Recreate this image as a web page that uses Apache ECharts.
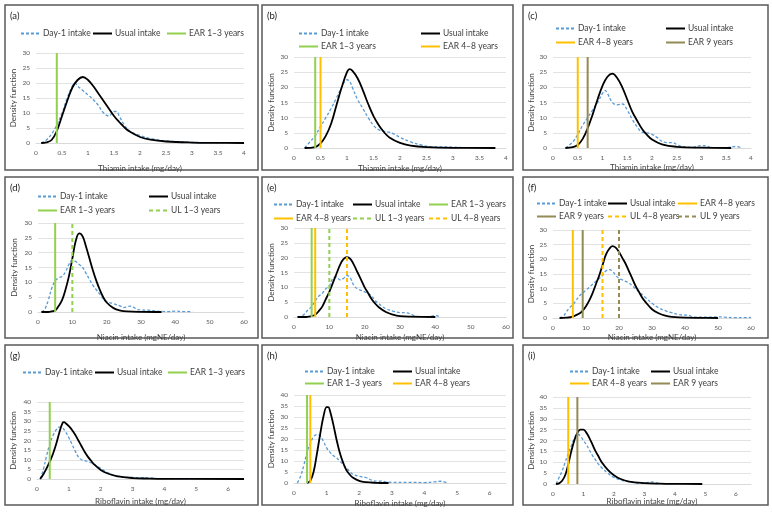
<!DOCTYPE html>
<html>
<head>
<meta charset="utf-8">
<script src="https://cdn.jsdelivr.net/npm/echarts@6/dist/echarts.min.js"></script>
<style>html,body{margin:0;background:#fff}#main{width:772px;height:513px}</style>
</head>
<body>
<div id="main"></div>
<script>
// (a)-(c) thiamin, (d)-(f) niacin, (g)-(i) riboflavin; [intake, density]
var aDay1 = [[0.1,0],[0.2,1],[0.3,3],[0.4,6],[0.5,10],[0.6,15],[0.7,19],[0.75,20],[0.8,19],[0.9,17.5],[1.0,16],[1.1,14.5],[1.2,12.5],[1.3,10],[1.4,9],[1.5,10.5],[1.55,10.5],[1.6,9],[1.7,6],[1.8,4],[2.0,2.5],[2.2,1.5],[2.5,0.7],[3,0.2],[3.5,0.1],[4,0.05]];
var aUsual = [[0.1,0],[0.2,0.2],[0.3,1],[0.4,4],[0.5,9],[0.6,14],[0.7,18.5],[0.8,21],[0.9,22],[1.0,21],[1.1,19],[1.2,16.5],[1.3,14],[1.4,11.5],[1.5,9],[1.6,7],[1.7,5.2],[1.8,3.8],[2.0,2],[2.2,1.1],[2.5,0.5],[3,0.15],[3.5,0.05],[4,0]];
var aRefs = [['EAR 1–3 years',0.4]];

var bDay1 = [[0.2,0],[0.3,2],[0.4,4],[0.5,7],[0.6,10],[0.7,13],[0.8,16.5],[0.9,20],[1.0,22.5],[1.05,22],[1.1,20],[1.2,16],[1.3,13],[1.4,10],[1.5,7.5],[1.6,6],[1.7,5.5],[1.8,5.2],[1.9,4.5],[2.0,3.5],[2.2,2],[2.4,1],[2.6,0.4],[3,0.3],[3.2,0.1],[3.5,0.05]];
var bUsual = [[0.2,0],[0.4,0.3],[0.5,1.5],[0.6,4],[0.7,8],[0.8,14],[0.9,20],[1.0,25],[1.05,26],[1.1,25.5],[1.2,23],[1.3,19],[1.4,14.5],[1.5,10.5],[1.6,7.5],[1.7,5.2],[1.8,3.5],[2.0,1.7],[2.2,0.8],[2.5,0.3],[3,0.05],[3.8,0]];
var bRefs = [['EAR 1–3 years',0.4],['EAR 4–8 years',0.5]];

var cDay1 = [[0.25,0],[0.4,2],[0.5,4.5],[0.6,7.5],[0.7,10],[0.8,12.5],[0.9,15],[1.0,18],[1.05,19],[1.1,18],[1.2,15],[1.3,14.2],[1.4,14.5],[1.5,12.5],[1.6,9.5],[1.7,7],[1.8,5.2],[1.9,5],[2.0,4.5],[2.1,3.5],[2.2,2.2],[2.3,1.8],[2.4,1.8],[2.5,1.2],[2.6,0.5],[2.8,0.2],[3.0,0.8],[3.1,0.7],[3.2,0.1],[3.5,0.1],[3.7,0.5],[3.8,0.1]];
var cUsual = [[0.25,0],[0.4,0.3],[0.5,1],[0.6,3],[0.7,6.5],[0.8,11],[0.9,16],[1.0,20.5],[1.1,23.5],[1.2,24.5],[1.3,23],[1.4,20],[1.5,16],[1.6,12],[1.7,9],[1.8,6.3],[1.9,4.3],[2.0,2.8],[2.2,1.2],[2.5,0.4],[3,0.1],[3.6,0]];
var cRefs = [['EAR 4–8 years',0.5],['EAR 9 years',0.7]];

var dDay1 = [[1,0],[2,1],[3,4],[4,8],[5,10.5],[6,11.5],[7,12],[8,13.5],[9,16],[10,17.5],[11,17],[12,16],[13,15],[14,13],[15,11],[16,9],[17,7.5],[18,6],[19,4.5],[20,3.5],[22,2.8],[24,2],[25,1.5],[26,1.8],[27,2],[28,1.5],[29,0.8],[30,0.7],[32,0.6],[34,0.4],[36,0.2],[38,0.1],[40,0.3],[42,0.1],[45,0.1]];
var dUsual = [[1,0],[3,0],[4,0.2],[5,0.5],[6,2],[7,4],[8,7.5],[9,12],[10,18],[11,24],[12,26.5],[13,25.5],[14,22],[15,18],[16,14],[17,10.5],[18,7.5],[19,5],[20,3.2],[22,1.3],[24,0.5],[26,0.2],[30,0.05],[36,0]];
var dRefs = [['EAR 1–3 years',5],['UL 1–3 years',10]];

var eDay1 = [[1,0],[2,0.3],[3,1],[4,2.5],[5,3.5],[6,5.5],[7,7],[8,8],[9,9.5],[10,10.5],[11,13],[12,13.5],[13,12.5],[14,13],[15,14],[16,13],[17,10.5],[18,9.5],[19,9],[20,8.5],[21,8],[22,7],[23,5.5],[24,4.5],[25,3.5],[26,2.8],[28,2],[30,1.5],[32,1.4],[33,1],[34,0.5],[35,0.1],[38,0.1],[40,0.5],[41,0.2]];
var eUsual = [[1,0],[3,0],[4,0.1],[5,0.3],[6,0.8],[7,2],[8,3.5],[9,6],[10,8.5],[11,11.5],[12,14.5],[13,17.5],[14,19.5],[15,20.2],[16,19.5],[17,17.5],[18,15],[19,12.5],[20,10],[21,8],[22,6],[23,4.5],[24,3.3],[26,1.7],[28,0.8],[30,0.3],[33,0.1],[40,0]];
var eRefs = [['EAR 1–3 years',5],['EAR 4–8 years',6],['UL 1–3 years',10],['UL 4–8 years',15]];

var fDay1 = [[2,0],[3,0.5],[4,2],[5,3.5],[6,4.5],[7,6],[8,7.5],[9,8.5],[10,9.5],[11,10.5],[12,11.5],[13,12.5],[14,13.5],[15,14.5],[16,16],[17,16.5],[18,16],[19,14.5],[20,13.5],[21,13],[22,12.5],[23,12],[24,11],[25,10],[26,9],[28,7],[30,5],[32,3.5],[34,2.5],[36,1.8],[38,1.2],[40,1],[41,1],[42,0.5],[45,0.3],[48,0.3],[50,0.4],[52,0.3],[55,0.1],[58,0.1],[60,0.2]];
var fUsual = [[2,0],[4,0.1],[6,0.5],[8,1.5],[9,2.5],[10,4],[11,6],[12,8.5],[13,11.5],[14,14.5],[15,18],[16,21.5],[17,23.5],[18,24.5],[19,24],[20,22.5],[21,20.5],[22,18.5],[23,16],[24,13.5],[25,11],[26,9],[27,7],[28,5.5],[30,3],[32,1.6],[34,0.8],[36,0.4],[40,0.1],[45,0.05],[50,0]];
var fRefs = [['EAR 4–8 years',6],['EAR 9 years',9],['UL 4–8 years',15],['UL 9 years',20]];

var gDay1 = [[0.1,0],[0.2,5],[0.3,12],[0.4,18],[0.5,22.5],[0.6,25.5],[0.7,27],[0.8,26.5],[0.9,24.5],[1.0,21.5],[1.1,18],[1.2,14.5],[1.3,11.5],[1.4,10],[1.5,9.5],[1.6,9],[1.7,8.5],[1.8,7.5],[2.0,5.5],[2.2,3.5],[2.4,2],[2.6,1],[3,0.8],[3.5,0.6],[4,0.1],[6.5,0]];
var gUsual = [[0.1,0],[0.2,2.5],[0.3,5.5],[0.4,9],[0.5,13],[0.6,18],[0.7,24],[0.8,29],[0.85,29.5],[0.9,29],[1.0,27.5],[1.1,25.5],[1.2,23],[1.3,20],[1.4,17],[1.5,14],[1.6,11.5],[1.7,9.5],[1.8,7.5],[2.0,4.7],[2.2,3],[2.5,1.5],[3,0.5],[3.5,0.2],[4,0.05],[6.5,0]];
var gRefs = [['EAR 1–3 years',0.4]];

var hDay1 = [[0.1,0],[0.2,3],[0.3,8],[0.4,14],[0.5,18],[0.6,21],[0.7,22],[0.8,21.5],[0.9,19],[1.0,16],[1.1,14],[1.2,12.5],[1.3,11.5],[1.4,10],[1.5,8.5],[1.6,7],[1.7,5.5],[1.8,4],[2.0,3],[2.2,2.5],[2.4,1.2],[2.6,0.8],[2.7,1],[2.8,0.5],[3,0.3],[3.5,0.3],[4,0.2],[4.3,0.5],[4.5,0.8],[4.6,0.5],[4.7,0]];
var hUsual = [[0.4,0],[0.5,1],[0.6,5],[0.7,13],[0.8,22],[0.9,30],[1.0,34.5],[1.05,34.5],[1.1,33],[1.2,27],[1.3,20],[1.4,14],[1.5,9.5],[1.6,6],[1.7,4],[1.8,2.5],[2.0,1],[2.2,0.4],[2.5,0.1],[2.9,0]];
var hRefs = [['EAR 1–3 years',0.4],['EAR 4–8 years',0.5]];

var iDay1 = [[0.1,0],[0.2,3],[0.3,6],[0.4,10],[0.5,14],[0.6,17.5],[0.7,21],[0.8,23],[0.9,22],[1.0,20],[1.1,18],[1.2,15.5],[1.3,13],[1.4,11],[1.5,9],[1.6,7.5],[1.8,5],[2.0,3],[2.2,2],[2.5,1],[2.8,0.4],[3.0,0.3],[3.2,1],[3.3,0.8],[3.5,0.1]];
var iUsual = [[0.1,0],[0.2,0.3],[0.3,1.5],[0.4,4],[0.5,9],[0.6,15],[0.7,20],[0.8,23.5],[0.9,25],[1.0,25],[1.1,23.5],[1.2,21],[1.3,18],[1.4,15],[1.5,12.5],[1.6,10],[1.8,6.5],[2.0,4],[2.2,2.4],[2.5,1.1],[3,0.4],[3.5,0.15],[4,0.05],[4.9,0]];
var iRefs = [['EAR 4–8 years',0.5],['EAR 9 years',0.8]];

var thiaminTitle = 'Thiamin intake (mg/day)';
var niacinTitle = 'Niacin intake (mgNE/day)';
var riboTitle = 'Riboflavin intake (mg/day)';

var panels = [
  {tag:'(a)', day1:aDay1, usual:aUsual, refs:aRefs, box:[5,5,253,165],  grid:[36,53,208,90],  xMax:4,   xInt:0.5, yMax:30, yInt:5, xName:thiaminTitle, xGap:21, yGap:19,
   leg:[[20,34],[92,34],[166,34]]},
  {tag:'(b)', day1:bDay1, usual:bUsual, refs:bRefs, box:[262,5,251,165], grid:[294,57,212,91], xMax:4,   xInt:0.5, yMax:30, yInt:5, xName:thiaminTitle, xGap:16, yGap:19,
   leg:[[298,34],[420,34],[298,47],[420,47]]},
  {tag:'(c)', day1:cDay1, usual:cUsual, refs:cRefs, box:[523,5,245,165], grid:[553,57,198,91], xMax:4,   xInt:0.5, yMax:30, yInt:5, xName:thiaminTitle, xGap:15, yGap:18,
   leg:[[555,29],[665,29],[555,43],[665,43]]},
  {tag:'(d)', day1:dDay1, usual:dUsual, refs:dRefs, box:[5,177,253,161], grid:[38,223,206,89], xMax:60,  xInt:10,  yMax:30, yInt:5, xName:niacinTitle, xGap:21, yGap:20,
   leg:[[37,197],[148,197],[37,211],[148,211]]},
  {tag:'(e)', day1:eDay1, usual:eUsual, refs:eRefs, box:[262,177,251,161], grid:[294,228,212,89], xMax:60, xInt:10, yMax:30, yInt:5, xName:niacinTitle, xGap:16, yGap:19,
   leg:[[273,205],[352,205],[428,205],[273,219],[352,219],[428,219]]},
  {tag:'(f)', day1:fDay1, usual:fUsual, refs:fRefs, box:[523,177,245,161], grid:[553,230,198,88], xMax:60, xInt:10, yMax:30, yInt:5, xName:niacinTitle, xGap:15, yGap:18,
   leg:[[536,204],[607,204],[677,204],[536,217],[607,217],[677,217]]},
  {tag:'(g)', day1:gDay1, usual:gUsual, refs:gRefs, box:[5,345,253,160], grid:[37,402,207,77], xMax:6.5, xInt:1,   yMax:40, yInt:5, xName:riboTitle, xGap:18, yGap:20,
   leg:[[22,373],[94,373],[167,373]]},
  {tag:'(h)', day1:hDay1, usual:hUsual, refs:hRefs, box:[262,345,251,160], grid:[294,395,212,88], xMax:6.5, xInt:1, yMax:40, yInt:5, xName:riboTitle, xGap:16, yGap:19,
   leg:[[304,372],[392,372],[304,384],[392,384]]},
  {tag:'(i)', day1:iDay1, usual:iUsual, refs:iRefs, box:[523,345,245,160], grid:[553,397,198,87], xMax:6.5, xInt:1, yMax:40, yInt:5, xName:riboTitle, xGap:13, yGap:18,
   leg:[[569,372],[650,372],[569,384],[650,384]]}
];

var FONT = 'Lato';
var refColors = {'1–3': '#92D050', '4–8': '#FFC000', '9': '#948A54'};

function refStyle(name) {
  var age = name.indexOf('1–3') >= 0 ? '1–3' : (name.indexOf('4–8') >= 0 ? '4–8' : '9');
  var dashed = name.indexOf('UL') === 0;
  return {color: refColors[age], width: 2, type: dashed ? [4, 3] : 'solid'};
}

var grids = [], xAxes = [], yAxes = [], series = [], legends = [], graphics = [];

panels.forEach(function (p, k) {
  grids.push({left: p.grid[0], top: p.grid[1], width: p.grid[2], height: p.grid[3]});
  xAxes.push({
    type: 'value', gridIndex: k, min: 0, max: p.xMax, interval: p.xInt,
    name: p.xName, nameLocation: 'middle', nameGap: p.xGap,
    nameTextStyle: {fontFamily: FONT, fontSize: 8, color: '#404040'},
    axisLine: {lineStyle: {color: '#d9d9d9'}}, axisTick: {show: false},
    splitLine: {show: false},
    axisLabel: {
      fontFamily: FONT, fontSize: 6.5, color: '#595959', margin: 6,
      formatter: function (v) {
        var r = v / p.xInt;
        return Math.abs(r - Math.round(r)) < 1e-6 ? String(v) : '';
      }
    }
  });
  yAxes.push({
    type: 'value', gridIndex: k, min: 0, max: p.yMax, interval: p.yInt,
    name: 'Density function', nameLocation: 'middle', nameGap: p.yGap,
    nameTextStyle: {fontFamily: FONT, fontSize: 8, color: '#404040'},
    axisLine: {show: false}, axisTick: {show: false},
    splitLine: {lineStyle: {color: '#e3e3e3'}},
    axisLabel: {fontFamily: FONT, fontSize: 6.5, color: '#595959', margin: 6}
  });

  var names = ['Day-1 intake', 'Usual intake'];
  series.push({
    name: 'Day-1 intake', type: 'line', xAxisIndex: k, yAxisIndex: k, data: p.day1,
    smooth: 0.4, symbol: 'none', lineStyle: {color: '#5B9BD5', width: 1.3, type: [3, 2]},
    itemStyle: {color: '#5B9BD5'}
  });
  series.push({
    name: 'Usual intake', type: 'line', xAxisIndex: k, yAxisIndex: k, data: p.usual,
    smooth: 0.4, symbol: 'none', lineStyle: {color: '#000', width: 1.8},
    itemStyle: {color: '#000'}
  });
  p.refs.forEach(function (r) {
    var st = refStyle(r[0]);
    names.push(r[0]);
    series.push({
      name: r[0], type: 'line', xAxisIndex: k, yAxisIndex: k,
      data: [[r[1], 0], [r[1], p.yMax]], symbol: 'none',
      lineStyle: st, itemStyle: {color: st.color}
    });
  });

  names.forEach(function (n, j) {
    legends.push({
      data: [n], left: p.leg[j][0], top: p.leg[j][1] - 5, padding: 0,
      itemWidth: 19, itemHeight: 10, itemGap: 0, selectedMode: false,
      itemStyle: {opacity: 0},
      textStyle: {fontFamily: FONT, fontSize: 8.5, color: '#404040', padding: [0, 0, 0, -2]}
    });
  });

  graphics.push({
    type: 'rect', shape: {x: p.box[0], y: p.box[1], width: p.box[2], height: p.box[3]},
    style: {fill: 'none', stroke: '#595959', lineWidth: 1.5}
  });
  graphics.push({
    type: 'text', left: p.box[0] + 5, top: p.box[1] + 6,
    style: {text: p.tag, fontFamily: FONT, fontSize: 9.5, fill: '#222'}
  });
});

var chart = echarts.init(document.getElementById('main'));
chart.setOption({
  animation: false,
  grid: grids,
  xAxis: xAxes,
  yAxis: yAxes,
  legend: legends,
  series: series,
  graphic: graphics
});
</script>
</body>
</html>
